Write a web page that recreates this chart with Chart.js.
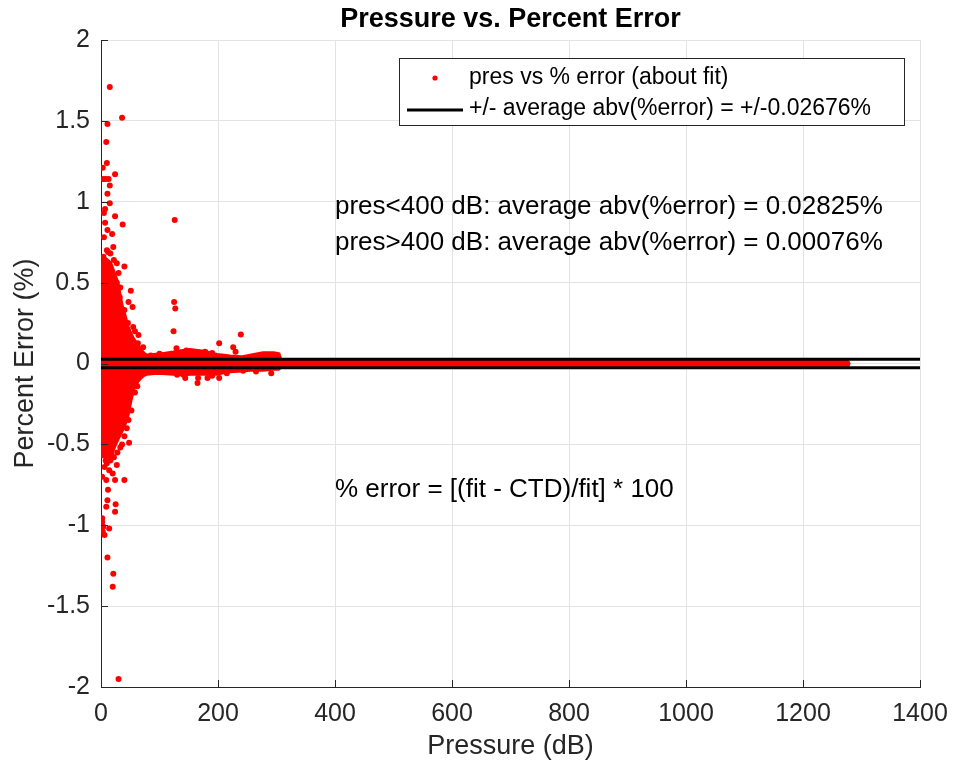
<!DOCTYPE html>
<html>
<head>
<meta charset="utf-8">
<script src="https://cdn.jsdelivr.net/npm/chart.js@4.4.1/dist/chart.umd.min.js"></script>
<style>
  html, body { margin: 0; padding: 0; background: #fff; }
  #wrap { width: 953px; height: 763px; }
</style>
</head>
<body>
<div id="wrap"><canvas id="myChart"></canvas></div>
<script>
// Tick values of the axes
const xTicks = [0, 200, 400, 600, 800, 1000, 1200, 1400];
const yTicks = [-2, -1.5, -1, -0.5, 0, 0.5, 1, 1.5, 2];

// Scattered points (pressure dB, percent error)
const scatterPres = [15, 36, 11, 9, 10, 3, 24, 4, 8, 13, 15, 11, 15, 7, 5, 24, 7, 37, 126, 11,
  19, 5, 21, 10, 16, 4, 12, 40, 27, 22, 30, 27, 33, 51, 32, 47, 54, 40, 46, 55,
  64, 63, 125, 127, 124, 129, 239, 202, 226, 230, 146, 178, 160, 190, 100, 85, 72, 58,
  165, 166, 182, 202, 243, 291, 141, 144, 121, 104, 72, 107, 190, 215, 265, 130,
  48, 47, 52, 30, 58, 62, 40, 36, 28, 16, 6, 2, 14, 20, 8, 4, 18, 10, 27, 9,
  24, 40, 12, 11, 9, 25, 24, 2, 4, 14, 6, 11, 21, 20, 30, 2, 3, 33, 22, 44];
const scatterErr = [1.71, 1.52, 1.48, 1.37, 1.24, 1.21, 1.17, 1.14, 1.14, 1.14, 1.10, 1.05, 0.99, 0.955, 0.93, 0.91, 0.87, 0.86, 0.887, 0.825,
  0.80, 0.78, 0.72, 0.70, 0.68, 0.66, 0.69, 0.60, 0.62, 0.64, 0.56, 0.50, 0.47, 0.45, 0.41, 0.38, 0.35, 0.33, 0.25, 0.225,
  0.176, 0.125, 0.38, 0.34, 0.20, 0.094, 0.18, 0.125, 0.10, 0.073, 0.08, 0.073, 0.07, 0.065, 0.06, 0.05, 0.10, 0.20,
  -0.12, -0.09, -0.09, -0.09, -0.045, -0.06, -0.07, -0.09, -0.05, -0.05, -0.03, -0.05, -0.075, -0.06, -0.05, -0.07,
  -0.49, -0.35, -0.29, -0.39, -0.18, -0.14, -0.45, -0.50, -0.55, -0.60, -0.64, -0.70, -0.66, -0.68, -0.60, -0.555, -0.566, -0.617, -0.627, -0.72,
  -0.72, -0.72, -0.78, -0.845, -0.885, -0.87, -0.916, -0.957, -1.01, -1.02, -1.06, -1.20, -1.30, -1.38, -1.95, -0.98, -1.04, -0.52, -0.58, -0.40];

// Outline of the solid cloud of points near the axis
const corePres  = [0, 8, 15, 19, 22, 27, 31, 35, 40, 44, 50, 55, 62, 67, 72, 78, 90, 105, 124, 140, 152, 175, 198, 210, 220, 240, 255, 277, 295, 303, 306];
const coreUpper = [0.62, 0.64, 0.62, 0.58, 0.55, 0.50, 0.42, 0.35, 0.29, 0.23, 0.18, 0.145, 0.11, 0.083, 0.06, 0.045, 0.05, 0.055, 0.065, 0.075, 0.08, 0.07, 0.05, 0.045, 0.04, 0.035, 0.045, 0.06, 0.06, 0.055, 0.02];
const coreLower = [-0.57, -0.57, -0.57, -0.54, -0.51, -0.47, -0.44, -0.41, -0.37, -0.33, -0.22, -0.15, -0.105, -0.085, -0.07, -0.06, -0.055, -0.055, -0.06, -0.065, -0.06, -0.06, -0.06, -0.05, -0.045, -0.04, -0.035, -0.035, -0.03, -0.03, -0.02];

// Thin band of points from 300 to 1275 dB
const bandPres = [0, 1275];
const bandErr = [0, 0];

// +/- mean absolute error lines
const avgAbsErr = 0.02676;
const avgLinePres = [0, 1400];

const annotations = [
  { pres: 400, err: 0.967, text: 'pres<400 dB: average abv(%error) = 0.02825%' },
  { pres: 400, err: 0.745, text: 'pres>400 dB: average abv(%error) = 0.00076%' },
  { pres: 400, err: -0.782, text: '% error = [(fit - CTD)/fit] * 100' }
];
const legendLabels = ['pres vs % error (about fit)', '+/- average abv(%error) = +/-0.02676%'];

const RED = '#ff0000';
const AXIS = '#262626';
const FONT = "'Liberation Sans', Arial, sans-serif";

const pts = (xs, ys) => xs.map((x, i) => ({ x: x, y: ys[i] }));

// titolo, legenda, testi e tacche interne
const extras = {
  id: 'extras',
  afterDatasetsDraw(chart) {
    const { ctx, chartArea: a, scales: { x, y } } = chart;
    ctx.save();
    // inward tick marks
    ctx.strokeStyle = AXIS;
    ctx.lineWidth = 1;
    ctx.beginPath();
    xTicks.forEach(t => { const px = Math.round(x.getPixelForValue(t)) + 0.5; ctx.moveTo(px, a.bottom); ctx.lineTo(px, a.bottom - 7); });
    yTicks.forEach(t => { const py = Math.round(y.getPixelForValue(t)) + 0.5; ctx.moveTo(a.left, py); ctx.lineTo(a.left + 7, py); });
    ctx.stroke();

    // text annotations
    ctx.fillStyle = '#000';
    ctx.font = '26px ' + FONT;
    ctx.textBaseline = 'middle';
    ctx.textAlign = 'left';
    annotations.forEach(n => ctx.fillText(n.text, x.getPixelForValue(n.pres), y.getPixelForValue(n.err)));

    // legend box
    const L = 399, T = 58, R = 904, B = 125;
    ctx.fillStyle = '#fff';
    ctx.fillRect(L, T, R - L, B - T);
    ctx.strokeStyle = AXIS;
    ctx.lineWidth = 1;
    ctx.strokeRect(L + 0.5, T + 0.5, R - L, B - T);
    ctx.fillStyle = RED;
    ctx.beginPath();
    ctx.arc(435, 78, 2.6, 0, Math.PI * 2);
    ctx.fill();
    ctx.strokeStyle = '#000';
    ctx.lineWidth = 3;
    ctx.beginPath();
    ctx.moveTo(407, 110);
    ctx.lineTo(463, 110);
    ctx.stroke();
    ctx.fillStyle = '#000';
    ctx.font = '23px ' + FONT;
    ctx.fillText(legendLabels[0], 469, 78);
    ctx.fillText(legendLabels[1], 469, 109);

    // title
    ctx.font = 'bold 27px ' + FONT;
    ctx.textAlign = 'center';
    ctx.fillText('Pressure vs. Percent Error', (a.left + a.right) / 2, 20);
    ctx.restore();
  }
};

new Chart(document.getElementById('myChart'), {
  type: 'scatter',
  data: {
    datasets: [
      { label: '+avg', data: pts(avgLinePres, [avgAbsErr, avgAbsErr]), showLine: true, borderColor: '#000', borderWidth: 3, pointRadius: 0, order: 0 },
      { label: '-avg', data: pts(avgLinePres, [-avgAbsErr, -avgAbsErr]), showLine: true, borderColor: '#000', borderWidth: 3, pointRadius: 0, order: 0 },
      { label: legendLabels[0], data: pts(scatterPres, scatterErr), backgroundColor: RED, borderColor: RED, borderWidth: 0, pointRadius: 3, order: 1 },
      { label: 'core upper', data: pts(corePres, coreUpper), showLine: true, fill: '+1', backgroundColor: RED, borderColor: RED, borderWidth: 5, pointRadius: 0, order: 2 },
      { label: 'core lower', data: pts(corePres, coreLower), showLine: true, fill: false, borderColor: RED, borderWidth: 5, pointRadius: 0, order: 2 },
      { label: 'band', data: pts(bandPres, bandErr), showLine: true, borderColor: RED, borderWidth: 7, borderCapStyle: 'round', pointRadius: 0, order: 2 }
    ]
  },
  options: {
    responsive: true,
    maintainAspectRatio: false,
    animation: false,
    layout: { padding: { top: 40, right: 33, bottom: 0, left: 0 } },
    plugins: { legend: { display: false }, tooltip: { enabled: false }, title: { display: false } },
    scales: {
      x: {
        type: 'linear', min: 0, max: 1400,
        afterBuildTicks: s => { s.ticks = xTicks.map(v => ({ value: v })); },
        afterFit: s => { s.height = 76; s.paddingRight = 0; s.paddingLeft = 0; },
        grid: { color: '#e3e3e3', drawTicks: false },
        border: { color: AXIS, width: 1 },
        ticks: { color: AXIS, font: { family: FONT, size: 25 }, padding: 12, maxRotation: 0, callback: v => String(v) },
        title: { display: true, text: 'Pressure (dB)', color: AXIS, font: { family: FONT, size: 27 }, padding: { top: 0, bottom: 0 } }
      },
      y: {
        type: 'linear', min: -2, max: 2,
        afterBuildTicks: s => { s.ticks = yTicks.map(v => ({ value: v })); },
        afterFit: s => { s.width = 101; s.paddingTop = 0; s.paddingBottom = 0; },
        grid: { color: '#e3e3e3', drawTicks: false },
        border: { color: AXIS, width: 1 },
        ticks: { color: AXIS, font: { family: FONT, size: 25 }, padding: 11, callback: v => String(v) },
        title: { display: true, text: 'Percent Error (%)', color: AXIS, font: { family: FONT, size: 27 }, padding: { top: 9, bottom: 0 } }
      }
    }
  },
  plugins: [extras]
});
</script>
</body>
</html>
